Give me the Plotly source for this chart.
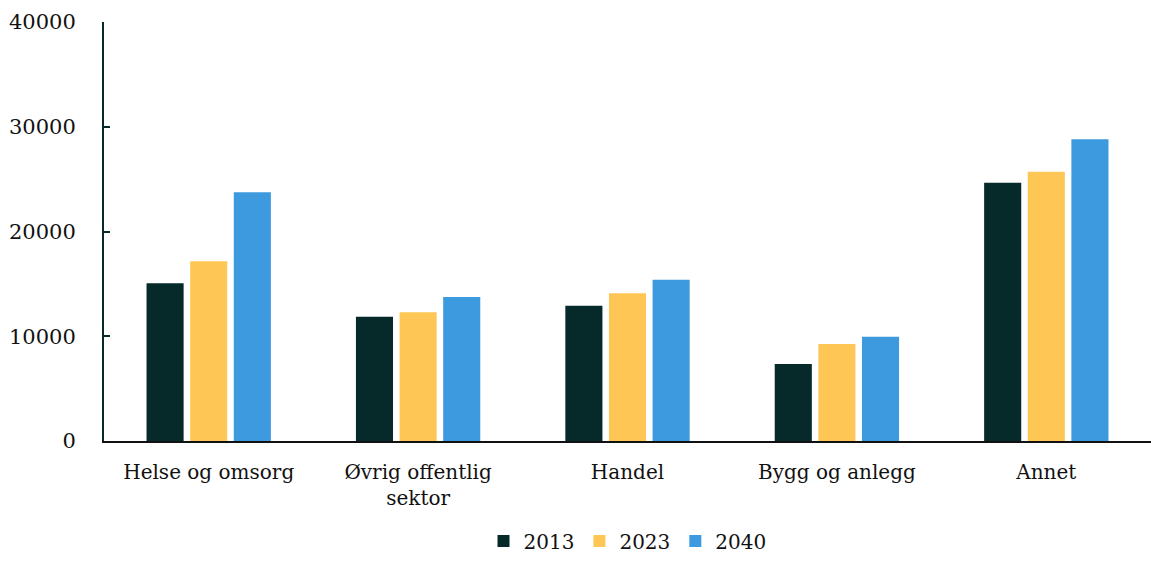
import plotly.graph_objects as go

categories = ["Helse og omsorg", "Øvrig offentlig<br>sektor", "Handel", "Bygg og anlegg", "Annet"]
years = ["2013", "2023", "2040"]
values_2013 = [15050, 11850, 12900, 7350, 24650]
values_2023 = [17150, 12300, 14100, 9250, 25700]
values_2040 = [23750, 13750, 15400, 9950, 28800]
colors = ["#062a2a", "#fec755", "#3e9ade"]
tick_vals = [0, 10000, 20000, 30000, 40000]
tick_text = ["0", "10000", "20000", "30000", "40000"]

FONT = "DejaVu Serif"

fig = go.Figure()
for name, vals, col in zip(years, [values_2013, values_2023, values_2040], colors):
    fig.add_trace(go.Bar(x=categories, y=vals, name=name, marker_color=col,
                         marker_line_width=0))

fig.update_layout(
    width=1151, height=561,
    margin=dict(l=104, r=0, t=22, b=120),
    plot_bgcolor="white", paper_bgcolor="white",
    barmode="group", bargap=0.375, bargroupgap=0.15,
    font=dict(family=FONT, size=20, color="#111111"),
    showlegend=True,
    legend=dict(orientation="h", x=0.5, xanchor="center", y=-0.285, yanchor="bottom",
                font=dict(family=FONT, size=20), itemwidth=30, traceorder="normal",
                tracegroupgap=0),
    xaxis=dict(showline=True, linecolor="#111111", linewidth=2, ticks="",
               tickfont=dict(family=FONT, size=20), showgrid=False,
               automargin=False, ticklabelstandoff=12),
    yaxis=dict(range=[0, 40000], tickvals=tick_vals, ticktext=tick_text,
               showline=True, linecolor="#062a2a", linewidth=2, ticks="inside",
               ticklen=6, tickcolor="#062a2a", tickwidth=2, showgrid=False,
               zeroline=False, tickfont=dict(family=FONT, size=21),
               ticklabelstandoff=22, automargin=False),
)

fig.write_html("out.html")
